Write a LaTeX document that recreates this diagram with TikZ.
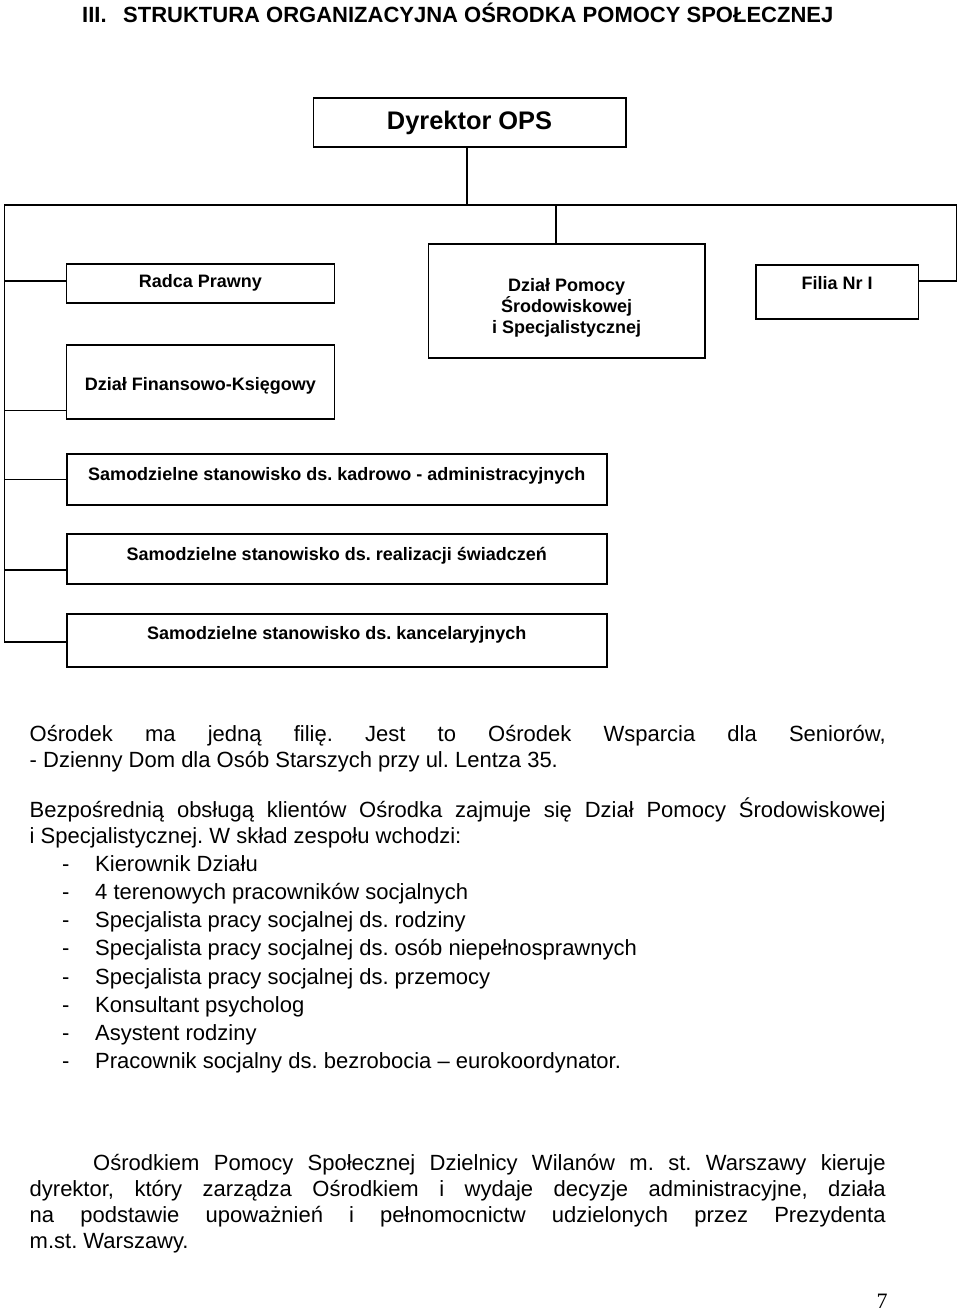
\documentclass[tikz,border=0pt]{standalone}
\usepackage{fontspec}
\setmainfont{Liberation Sans}
\newfontfamily\pagenumfont{Liberation Serif}
\usetikzlibrary{positioning}
\frenchspacing

\tikzset{
  unit/.style={draw, line width=1.6pt, anchor=north west, inner sep=0pt, align=center,
    font=\fontsize{18}{21}\selectfont\bfseries, text height=13pt, text depth=4pt},
  link/.style={line width=1.6pt},
  body/.style={anchor=base west, inner sep=0pt, font=\fontsize{22}{26}\selectfont},
  para/.style={body, text width=856pt, align=justify},
}

\begin{document}
\begin{tikzpicture}[x=1pt, y=-1pt]
    \useasboundingbox (0,0) rectangle (960,1313);

    % title
    \node[anchor=base west, inner sep=0pt, font=\fontsize{22}{26}\selectfont\bfseries] (title) at (82,23)
        {\makebox[41pt][l]{III.}STRUKTURA ORGANIZACYJNA OŚRODKA POMOCY SPOŁECZNEJ};

    % boxes
    \node[unit, minimum width=312.5pt, minimum height=49pt, font=\fontsize{25.4}{28}\selectfont\bfseries,
          text height=18pt, text depth=5pt] (dyr) at (312.5,97.5) {Dyrektor OPS};
    \node[unit, minimum width=268pt, minimum height=39pt] (radca) at (65.5,263) {Radca Prawny};
    \node[unit, minimum width=268pt, minimum height=74pt, text height=21pt] (fin) at (65.5,344) {Dział Finansowo-Księgowy};
    \node[unit, minimum width=276.5pt, minimum height=114pt, text height=, text depth=] (pomoc) at (427.5,243)
        {\rule{0pt}{27pt}Dział Pomocy\\Środowiskowej\\i Specjalistycznej};
    \node[unit, minimum width=162.5pt, minimum height=53.5pt, text depth=18pt] (filia) at (755,264.5) {Filia Nr I};
    \node[unit, minimum width=540pt, minimum height=51pt, text depth=11pt] (kadr) at (66,453)
        {Samodzielne stanowisko ds. kadrowo - administracyjnych};
    \node[unit, minimum width=540pt, minimum height=50pt, text depth=10pt] (real) at (66,533)
        {Samodzielne stanowisko ds. realizacji świadczeń};
    \node[unit, minimum width=540pt, minimum height=53pt, text depth=15pt] (kanc) at (66,613)
        {Samodzielne stanowisko ds. kancelaryjnych};

    % connectors
    \coordinate (busL) at (4.5,205);
    \coordinate (busR) at (956.5,205);
    \coordinate (tapD) at (467,205);
    \coordinate (tapM) at (556,205);
    \coordinate (finTap) at ([yshift=9pt]fin.south west);
    \coordinate (realTap) at ([yshift=-11pt]real.west);

    \draw[link] (tapD |- dyr.south) -- (tapD);
    \draw[link] ([yshift=-1.5pt]kanc.west) -| (busL) -- (busR) |- ([yshift=2pt]filia.east |- radca.west);
    \draw[link] (tapM) -- (tapM |- pomoc.north);
    \draw[link] ([yshift=2pt]busL |- radca.west) -- ([yshift=2pt]radca.west);
    \draw[link] (busL |- finTap) -- (finTap);
    \draw[link] (busL |- kadr.west) -- (kadr.west);
    \draw[link] (busL |- realTap) -- (realTap);

    % text below the chart
    \node[para] (filiaTxt) at (29.5,741) {\tolerance=9999\hyphenpenalty=10000
        Ośrodek ma jedną filię. Jest to Ośrodek Wsparcia dla Seniorów,\linebreak
        - Dzienny Dom dla Osób Starszych przy ul. Lentza 35.};
    \node[para] (zespol) at (29.5,817) {\tolerance=9999\hyphenpenalty=10000
        Bezpośrednią obsługą klientów Ośrodka zajmuje się Dział Pomocy Środowiskowej\linebreak
        i Specjalistycznej. W skład zespołu wchodzi:};

    \foreach \txt [count=\i] in {Kierownik Działu, 4 terenowych pracowników socjalnych,
        Specjalista pracy socjalnej ds. rodziny, Specjalista pracy socjalnej ds. osób niepełnosprawnych,
        Specjalista pracy socjalnej ds. przemocy, Konsultant psycholog, Asystent rodziny,
        Pracownik socjalny ds. bezrobocia – eurokoordynator.}
    {
        \node[body] (dash\i) at (62,871+28.25*\i-28.25) {-};
        \node[body] (item\i) at (95,871+28.25*\i-28.25) {\txt};
    }

    \node[para] (kieruje) at (29.5,1170) {\tolerance=9999\hyphenpenalty=10000
        \hspace*{63.5pt}Ośrodkiem Pomocy Społecznej Dzielnicy Wilanów m. st. Warszawy kieruje\linebreak
        dyrektor, który zarządza Ośrodkiem i wydaje decyzje administracyjne, działa\linebreak
        na podstawie upoważnień i pełnomocnictw udzielonych przez Prezydenta\linebreak
        m.st. Warszawy.};

    \node[anchor=base, inner sep=0pt, font=\fontsize{22}{26}\pagenumfont] (pagenum) at (882,1308) {7};

\end{tikzpicture}
\end{document}
